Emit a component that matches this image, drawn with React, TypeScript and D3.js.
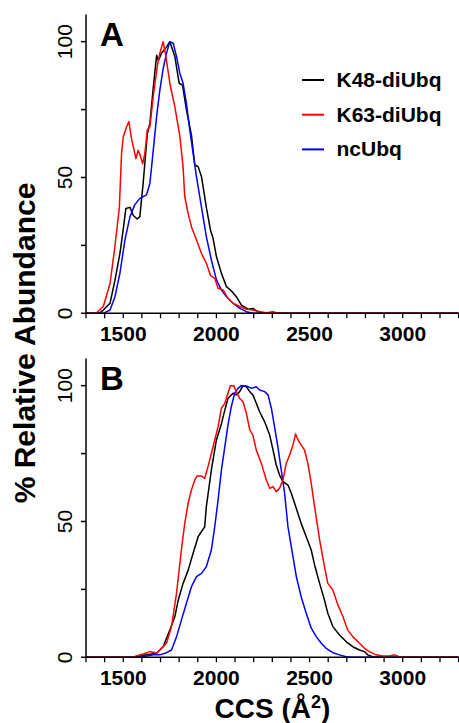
import React from 'react';
import * as d3 from 'd3';

type Pt = [number, number];

// x tick values (CCS, Å²)
const majorTicks = [1500, 2000, 2500, 3000];
const minorTicks = [1300, 1400, 1500, 1600, 1700, 1800, 1900, 2000, 2100, 2200, 2300, 2400, 2500, 2600, 2700, 2800, 2900, 3000, 3100, 3200, 3300];
const yTicks = [0, 25, 50, 75, 100];
const yLabelTicks = [0, 50, 100];

const seriesNames = ['K48-diUbq', 'K63-diUbq', 'ncUbq'];
const seriesColors = ['#000000', '#ff0000', '#0000ff'];

// Panel A
const k48A: Pt[] = [
  [1300, 0], [1370, 0], [1393, 1.2], [1429, 3.7], [1455, 12], [1482, 22], [1500, 31], [1514, 38.6], [1536, 39],
  [1554, 36], [1575, 34.7], [1589, 35.6], [1607, 48], [1629, 66], [1643, 70], [1661, 83], [1679, 95],
  [1688, 93], [1705, 95.7], [1732, 98], [1750, 100], [1777, 94.5], [1800, 84.7], [1818, 84], [1839, 75],
  [1866, 65.6], [1884, 54.6], [1902, 54], [1920, 50.3], [1946, 39], [1968, 30.7], [1982, 27.6], [2000, 20.9],
  [2027, 14.7], [2054, 9.8], [2080, 8.3], [2107, 6.1], [2134, 3], [2170, 1.5], [2196, 1.8], [2223, 0.6],
  [2268, 0], [3300, 0],
];
const k63A: Pt[] = [
  [1300, 0], [1357, 0.2], [1393, 2.5], [1429, 11], [1455, 24.5], [1479, 39], [1491, 59], [1500, 65], [1518, 68.7],
  [1530, 70.6], [1545, 64], [1568, 57], [1580, 60], [1593, 57.7], [1604, 55], [1616, 59], [1629, 67.5],
  [1643, 68.7], [1661, 79.8], [1682, 90.8], [1696, 95.7], [1714, 100], [1729, 94.5], [1750, 84.7], [1777, 76],
  [1804, 65], [1821, 54], [1830, 43], [1848, 36.8], [1866, 31.9], [1893, 27], [1920, 22], [1946, 18.4],
  [1968, 14], [1991, 12.9], [2009, 9.2], [2036, 8.6], [2062, 5.5], [2089, 3.7], [2125, 2.5], [2161, 1.5],
  [2196, 1.2], [2232, 0.6], [2268, 0.2], [2304, 0.6], [2330, 0], [3300, 0],
];
const ncA: Pt[] = [
  [1300, 0], [1393, 0], [1429, 1.2], [1455, 6], [1482, 14.7], [1509, 27], [1536, 35.6], [1562, 40], [1589, 42.3],
  [1625, 43.6], [1643, 47.9], [1661, 60], [1679, 72.4], [1696, 82], [1714, 90], [1732, 95.7], [1750, 100],
  [1768, 99.4], [1786, 94.5], [1804, 88.3], [1821, 84.7], [1839, 77.3], [1857, 67.5], [1875, 58.9],
  [1893, 50.3], [1920, 39], [1946, 28.2], [1973, 19.6], [2000, 12.3], [2027, 8.6], [2054, 6.1], [2089, 3.7],
  [2125, 1.8], [2161, 0.6], [2196, 0], [3300, 0],
];

// Panel B
const k48B: Pt[] = [
  [1300, 0], [1550, 0], [1571, 0.2], [1625, 0.9], [1679, 1.5], [1714, 3.9], [1750, 10], [1777, 15], [1795, 21],
  [1821, 27.2], [1848, 32], [1875, 38.3], [1902, 44.4], [1920, 46.3], [1937, 48], [1946, 55.5], [1973, 69],
  [2000, 80], [2027, 86], [2045, 91], [2062, 95.3], [2089, 97.2], [2107, 96.6], [2125, 97.8], [2143, 100],
  [2161, 99.6], [2179, 97.8], [2196, 96.6], [2214, 93.5], [2232, 90.4], [2259, 86.7], [2286, 81.8],
  [2304, 76.3], [2321, 70.8], [2339, 67.1], [2357, 64.7], [2384, 63.4], [2402, 60.4], [2429, 54.8],
  [2455, 49.3], [2482, 44.4], [2509, 39.5], [2527, 34], [2554, 27.2], [2580, 21.1], [2598, 16.2],
  [2625, 11.3], [2661, 8.2], [2696, 5.8], [2732, 3.9], [2768, 2.7], [2795, 2.1], [2812, 0.9], [2839, 0.2],
  [2875, 0], [3300, 0],
];
const k63B: Pt[] = [
  [1300, 0], [1550, 0], [1571, 0.5], [1607, 1.2], [1643, 2.1], [1679, 1.5], [1705, 3.3], [1732, 5.2], [1759, 11.3],
  [1786, 23.6], [1812, 39.5], [1830, 49.3], [1848, 56.7], [1866, 61.6], [1884, 65.3], [1896, 66.7],
  [1920, 66.7], [1937, 65.9], [1955, 70.2], [1982, 77.5], [2009, 84.9], [2027, 91.7], [2045, 93.5],
  [2062, 97.2], [2075, 100], [2093, 100], [2107, 97.8], [2125, 95.3], [2143, 94.1], [2161, 89.8],
  [2179, 83.7], [2196, 81.8], [2214, 76.3], [2241, 71.4], [2268, 65.3], [2286, 62.2], [2304, 62.8],
  [2321, 61], [2339, 62.2], [2357, 65.3], [2375, 71.4], [2393, 74.5], [2411, 78.2], [2425, 82.2],
  [2438, 80], [2455, 78.2], [2473, 76.3], [2491, 71.4], [2509, 64], [2527, 55.5], [2554, 43.2],
  [2580, 33.4], [2598, 27.2], [2625, 24.8], [2652, 19.3], [2679, 15], [2705, 10], [2732, 7.6], [2768, 5.2],
  [2795, 3.3], [2821, 2.1], [2857, 0.9], [2893, 0.5], [2929, 0.5], [2955, 0.9], [2982, 0.2], [3018, 0],
  [3300, 0],
];
const ncB: Pt[] = [
  [1300, 0], [1590, 0], [1607, 0.2], [1661, 0.9], [1696, 0.9], [1732, 1.7], [1759, 2.7], [1786, 7.6], [1812, 13.7],
  [1839, 19.9], [1866, 26], [1893, 29.7], [1920, 30.9], [1946, 33.4], [1973, 39.5], [1991, 48.1],
  [2009, 57.9], [2027, 69], [2045, 77.5], [2062, 85.5], [2080, 92.3], [2098, 97.2], [2116, 99],
  [2134, 100], [2161, 99.9], [2188, 99], [2214, 99.6], [2232, 98.4], [2259, 97.8], [2277, 96.6],
  [2295, 91.7], [2312, 84.9], [2330, 77.5], [2348, 69], [2366, 60.4], [2384, 48.1], [2402, 40.7],
  [2429, 29.7], [2455, 22.3], [2482, 16.2], [2509, 10.7], [2536, 7.6], [2563, 5.2], [2589, 3.3],
  [2625, 1.7], [2661, 0.9], [2696, 0.2], [2732, 0], [3300, 0],
];

const FONT = 'Arial, "Liberation Sans", Helvetica, sans-serif';
const x = d3.scaleLinear().domain([1300, 3300]).range([86, 458.6]);

function Panel({ y0, y1, data, letter, legend }: { y0: number; y1: number; data: Pt[][]; letter: string; legend: boolean }) {
  const y = d3.scaleLinear().domain([0, 110]).range([y0, y1]);
  const line = d3.line<Pt>().x((d) => x(d[0])).y((d) => y(d[1]));
  const order = [0, 2, 1];
  return (
    <g>
      {order.map((i) => (
        <path key={i} d={line(data[i]) || ''} fill="none" stroke={seriesColors[i]} strokeWidth={1.5} strokeLinejoin="round" />
      ))}
      {/* axes */}
      <line x1={x(1300)} x2={x(1300)} y1={y(0) + 0.75} y2={y(110)} stroke="#000" strokeWidth={1.5} />
      <line x1={x(1300)} x2={x(3300)} y1={y(0)} y2={y(0)} stroke="#000" strokeWidth={1.5} />
      {yTicks.map((t) => (
        <line key={t} x1={x(1300) - 5} x2={x(1300)} y1={y(t)} y2={y(t)} stroke="#000" strokeWidth={1.5} />
      ))}
      {yLabelTicks.map((t) => (
        <text key={t} transform={`translate(71.5,${y(t)}) rotate(-90)`} textAnchor="middle" fontFamily={FONT} fontSize={21} fill="#000">
          {t}
        </text>
      ))}
      {minorTicks.map((t) => (
        <line key={t} x1={x(t)} x2={x(t)} y1={y(0)} y2={y(0) + 5} stroke="#000" strokeWidth={1.3} />
      ))}
      {majorTicks.map((t) => (
        <text key={t} x={x(t)} y={y(0) + 27.5} textAnchor="middle" fontFamily={FONT} fontSize={21} fontWeight="bold" fill="#000">
          {t}
        </text>
      ))}
      <text x={100} y={y(110) + 31} fontFamily={FONT} fontSize={33} fontWeight="bold" fill="#000">
        {letter}
      </text>
      {legend &&
        seriesNames.map((n, i) => (
          <g key={n}>
            <line x1={302} x2={324} y1={80 + i * 34.7} y2={80 + i * 34.7} stroke={seriesColors[i]} strokeWidth={2} />
            <text x={336.5} y={87 + i * 34.7} fontFamily={FONT} fontSize={21} fontWeight="bold" fill="#000">
              {n}
            </text>
          </g>
        ))}
    </g>
  );
}

export default function App() {
  return (
    <svg width={459} height={723} style={{ position: 'absolute', left: 0, top: 0, background: '#fff' }}>
      <rect width={459} height={723} fill="#fff" />
      <Panel y0={313.3} y1={14.5} data={[k48A, k63A, ncA]} letter="A" legend={true} />
      <Panel y0={657.3} y1={358.5} data={[k48B, k63B, ncB]} letter="B" legend={false} />
      <text transform="translate(35,343) rotate(-90)" textAnchor="middle" fontFamily={FONT} fontSize={30} fontWeight="bold" fill="#000">
        % Relative Abundance
      </text>
      <text x={272.5} y={718.3} textAnchor="middle" fontFamily={FONT} fontSize={28} fontWeight="bold" fill="#000">
        CCS (Å<tspan fontSize={18} dy={-10}>2</tspan>
        <tspan dy={10}>)</tspan>
      </text>
    </svg>
  );
}
